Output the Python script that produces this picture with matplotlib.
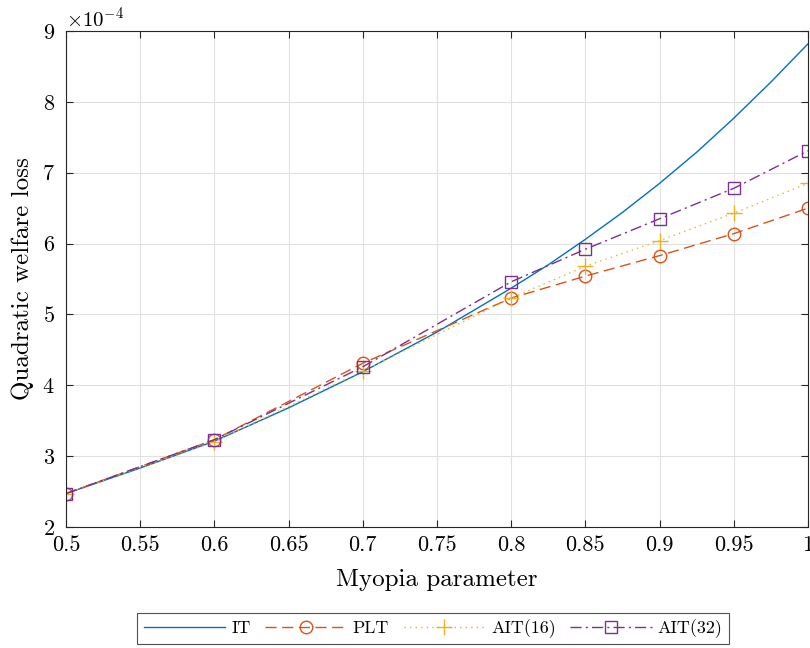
import matplotlib
matplotlib.use("Agg")
import matplotlib.pyplot as plt
from matplotlib.ticker import ScalarFormatter
import numpy as np

plt.rcParams['font.family'] = 'serif'
plt.rcParams['font.serif'] = ['cmr10']
plt.rcParams['mathtext.fontset'] = 'cm'
plt.rcParams['axes.formatter.use_mathtext'] = True

scale = 1e-4

# IT curve
it_x = [0.5, 0.55, 0.6, 0.65, 0.7, 0.75, 0.8, 0.825, 0.85, 0.875, 0.9, 0.925, 0.95, 0.975, 1.0]
it_y = [2.47, 2.83, 3.21, 3.68, 4.19, 4.75, 5.37, 5.70, 6.06, 6.44, 6.85, 7.29, 7.77, 8.28, 8.82]

# marker series
mx = [0.5, 0.6, 0.7, 0.8, 0.85, 0.9, 0.95, 1.0]
plt_y = [2.47, 3.23, 4.31, 5.23, 5.54, 5.83, 6.14, 6.50]
ait16_y = [2.47, 3.20, 4.20, 5.23, 5.68, 6.04, 6.43, 6.85]
ait32_y = [2.47, 3.23, 4.26, 5.46, 5.92, 6.35, 6.78, 7.31]

xticks = [0.5, 0.55, 0.6, 0.65, 0.7, 0.75, 0.8, 0.85, 0.9, 0.95, 1.0]
xticklabels = ['0.5', '0.55', '0.6', '0.65', '0.7', '0.75', '0.8', '0.85', '0.9', '0.95', '1']

fig = plt.figure(figsize=(8.1, 6.48), dpi=100)
ax = fig.add_axes([0.0815, 0.187, 0.916, 0.765])

ax.plot(it_x, np.array(it_y) * scale, color='#0072BD', lw=1.0, label='IT')
ax.plot(mx, np.array(plt_y) * scale, color='#D95319', lw=1.0, ls=(0, (8, 4)),
        marker='o', ms=9, mfc='none', mew=1.0, label='PLT')
ax.plot(mx, np.array(ait16_y) * scale, color='#EDB120', lw=1.0, ls=(0, (1, 3)),
        marker='+', ms=11, mew=1.0, label='AIT(16)')
ax.plot(mx, np.array(ait32_y) * scale, color='#7E2F8E', lw=1.0, ls=(0, (8, 3, 1.5, 3)),
        marker='s', ms=9, mfc='none', mew=1.0, label='AIT(32)')

ax.set_xlim(0.5, 1.0)
ax.set_ylim(2e-4, 9e-4)
ax.set_xticks(xticks)
ax.set_xticklabels(xticklabels)
ax.set_yticks(np.arange(2, 10) * scale)
fmt = ScalarFormatter(useMathText=True)
fmt.set_powerlimits((-3, 3))
ax.yaxis.set_major_formatter(fmt)
ax.yaxis.get_offset_text().set_fontsize(15)

ax.grid(True, color='#e0e0e0', lw=0.8)
ax.set_axisbelow(True)
ax.tick_params(direction='in', top=True, right=True, labelsize=16, length=5, color='#262626')
ax.tick_params(axis='x', pad=6)
ax.tick_params(axis='y', pad=8)
for s in ax.spines.values():
    s.set_color('#262626')
    s.set_linewidth(0.8)

ax.set_xlabel('Myopia parameter', fontsize=18, labelpad=10)
ax.set_ylabel('Quadratic welfare loss', fontsize=18, labelpad=6)

leg = ax.legend(loc='upper center', bbox_to_anchor=(0.495, -0.155), ncol=4, fontsize=13,
                frameon=True, fancybox=False, edgecolor='#262626', handlelength=4.5,
                columnspacing=0.8, handletextpad=0.35, borderpad=0.35, borderaxespad=0.5)
leg.get_frame().set_linewidth(0.8)

fig.savefig('out.png', dpi=100)
